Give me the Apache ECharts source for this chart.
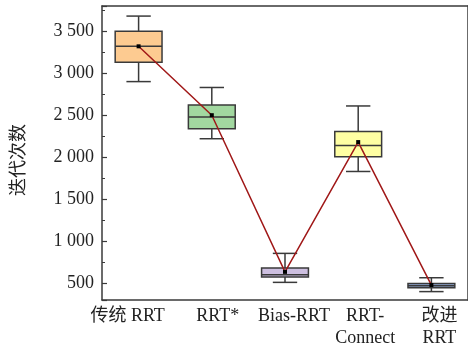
<!DOCTYPE html>
<html>
<head>
<meta charset="utf-8">
<script src="https://cdn.jsdelivr.net/npm/echarts@6/dist/echarts.min.js"></script>
<style>
html,body{margin:0;padding:0;background:#fff;}
#chart{width:468px;height:349px;}
</style>
</head>
<body>
<div id="chart"></div>
<script>
var categories = ['传统 RRT', 'RRT*', 'Bias-RRT', 'RRT-\nConnect', '改进\nRRT'];
var lowWhisker = [2900, 2220, 510, 1830, 400];
var q1 = [3130, 2340, 575, 2005, 445];
var median = [3320, 2480, 600, 2140, 470];
var q3 = [3500, 2620, 680, 2305, 495];
var highWhisker = [3680, 2830, 855, 2610, 565];
var mean = [3320, 2500, 635, 2180, 478];
var boxColors = ['#FDCB91', '#A2D8A0', '#CDBFE0', '#FFFFA3', '#92AAD6'];
var labelShift = [-11, 6, 9, 7, 8];
var yTitle = '迭代次数';

var boxData = categories.map(function (c, i) {
  return [i, lowWhisker[i], q1[i], median[i], q3[i], highWhisker[i]];
});
var catItems = categories.map(function (c, i) {
  var s = labelShift[i];
  return { value: c, textStyle: { padding: s >= 0 ? [0, 0, 0, 2 * s] : [0, -2 * s, 0, 0] } };
});

var FONT = "'Liberation Serif', 'Noto Sans CJK SC', serif";
var EDGE = '#3a3a3a';

function fmt(v) {
  if (v % 500 !== 0) return '';
  if (v >= 1000) {
    var r = String(v % 1000);
    while (r.length < 3) r = '0' + r;
    return Math.floor(v / 1000) + ' ' + r;
  }
  return String(v);
}

var chart = echarts.init(document.getElementById('chart'));
chart.setOption({
  animation: false,
  backgroundColor: '#fff',
  grid: { left: 102, top: 6, width: 369, height: 297 },
  xAxis: [{
    type: 'category',
    data: catItems,
    boundaryGap: true,
    axisLine: { lineStyle: { color: EDGE, width: 1.5 } },
    axisTick: { inside: true, alignWithLabel: true, length: 5, lineStyle: { color: EDGE, width: 1.2 } },
    axisLabel: { color: '#222', fontFamily: FONT, fontSize: 18, lineHeight: 22, margin: 5, interval: 0 }
  }, {
    type: 'category',
    position: 'top',
    data: categories,
    axisLine: { lineStyle: { color: EDGE, width: 1.5 } },
    axisTick: { show: false },
    axisLabel: { show: false }
  }],
  yAxis: [{
    type: 'value',
    min: 300,
    max: 3800,
    splitNumber: 7,
    name: yTitle,
    nameLocation: 'middle',
    nameGap: 74,
    nameTextStyle: { color: '#222', fontFamily: FONT, fontSize: 18, padding: [0, 14, 0, 0] },
    axisLine: { show: true, lineStyle: { color: EDGE, width: 1.5 } },
    axisTick: { show: true, inside: true, length: 5, lineStyle: { color: EDGE, width: 1.2 } },
    minorTick: { show: true, splitNumber: 2, length: 3, lineStyle: { color: EDGE, width: 1 } },
    splitLine: { show: false },
    axisLabel: { color: '#222', fontFamily: FONT, fontSize: 18, margin: 8, formatter: fmt, showMinLabel: false, showMaxLabel: false }
  }, {
    type: 'value',
    position: 'right',
    min: 300,
    max: 3800,
    axisLine: { show: true, lineStyle: { color: EDGE, width: 1.5 } },
    axisTick: { show: false },
    axisLabel: { show: false },
    splitLine: { show: false }
  }],
  series: [{
    type: 'custom',
    data: boxData,
    encode: { x: 0, y: [1, 2, 3, 4, 5] },
    z: 2,
    renderItem: function (params, api) {
      var idx = api.value(0);
      var band = api.size([1, 0])[0];
      var bw = band * 0.64;
      var cw = bw * 0.52;
      var pLow = api.coord([idx, api.value(1)]);
      var pQ1 = api.coord([idx, api.value(2)]);
      var pMed = api.coord([idx, api.value(3)]);
      var pQ3 = api.coord([idx, api.value(4)]);
      var pHigh = api.coord([idx, api.value(5)]);
      var x = pMed[0];
      var ls = { stroke: EDGE, lineWidth: 1.5 };
      return {
        type: 'group',
        children: [
          { type: 'line', shape: { x1: x, y1: pHigh[1], x2: x, y2: pQ3[1] }, style: ls },
          { type: 'line', shape: { x1: x, y1: pQ1[1], x2: x, y2: pLow[1] }, style: ls },
          { type: 'line', shape: { x1: x - cw / 2, y1: pHigh[1], x2: x + cw / 2, y2: pHigh[1] }, style: ls },
          { type: 'line', shape: { x1: x - cw / 2, y1: pLow[1], x2: x + cw / 2, y2: pLow[1] }, style: ls },
          { type: 'rect', shape: { x: x - bw / 2, y: pQ3[1], width: bw, height: pQ1[1] - pQ3[1] },
            style: { fill: boxColors[params.dataIndex], stroke: EDGE, lineWidth: 1.5 } },
          { type: 'line', shape: { x1: x - bw / 2, y1: pMed[1], x2: x + bw / 2, y2: pMed[1] }, style: ls }
        ]
      };
    }
  }, {
    type: 'line',
    data: mean,
    z: 5,
    symbol: 'rect',
    symbolSize: 4,
    lineStyle: { color: '#A01818', width: 1.5 },
    itemStyle: { color: '#000' }
  }]
});
</script>
</body>
</html>
